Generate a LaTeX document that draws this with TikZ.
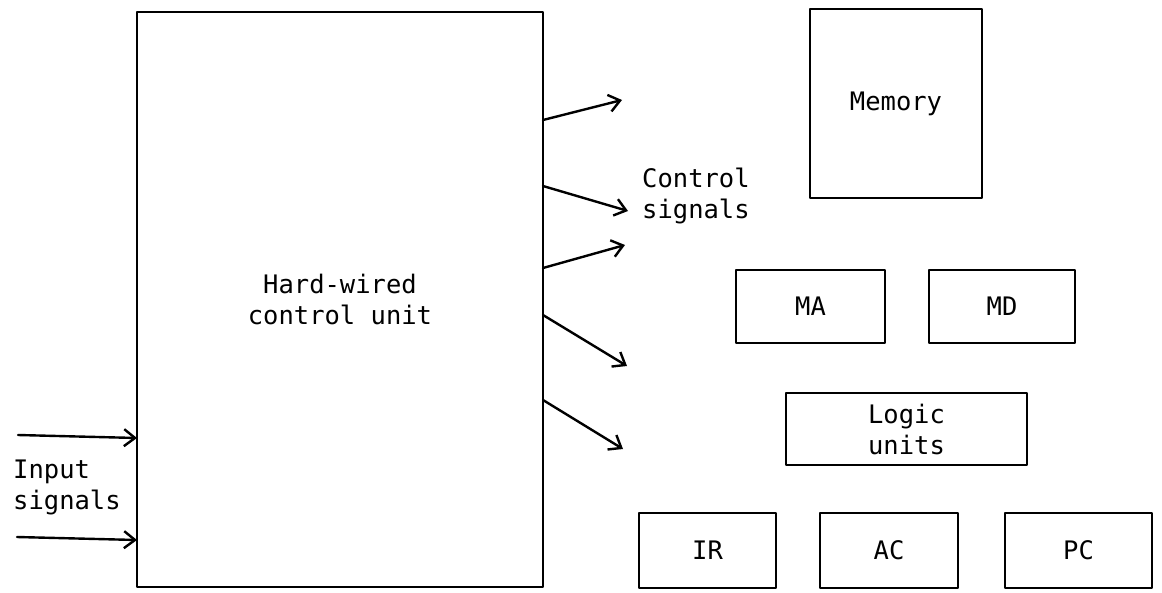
\documentclass[tikz,border=0pt]{standalone}
\usepackage{fontspec}
\setmonofont{DejaVu Sans Mono}
\usetikzlibrary{arrows.meta}
\tikzset{
  unit/.style={draw, line width=2.4pt, inner sep=0pt, align=center},
  label/.style={inner sep=0pt, align=left},
  sig/.style={->, line width=2.4pt},
}
\begin{document}
\begin{tikzpicture}[x=1pt, y=-1pt, >={Straight Barb[length=11pt,width=17pt]},
    font=\ttfamily\fontsize{25.5}{31}\selectfont, line join=round, line cap=round]
  \useasboundingbox (0,0) rectangle (1162,592);
  % blocks
  \node[unit, minimum width=406pt, minimum height=575pt] (hw) at (340,299.5) {Hard-wired\\control unit};
  \node[unit, minimum width=172pt, minimum height=189pt] (mem) at (896,103.5) {Memory};
  \node[unit, minimum width=149pt, minimum height=73pt] (ma) at (810.5,306.5) {MA};
  \node[unit, minimum width=146pt, minimum height=73pt] (md) at (1002,306.5) {MD};
  \node[unit, minimum width=241pt, minimum height=72pt] (lu) at (906.5,429) {Logic\\units};
  \node[unit, minimum width=137pt, minimum height=75pt] (ir) at (707.5,550.5) {IR};
  \node[unit, minimum width=138pt, minimum height=75pt] (ac) at (889,550.5) {AC};
  \node[unit, minimum width=147pt, minimum height=75pt] (pc) at (1078.5,550.5) {PC};
  % texts
  \node[label, anchor=west] (cs) at (642,196) {Control\\signals};
  \node[label, anchor=west] (is) at (13,487) {Input\\signals};
  % control signals
  \path
  (543,120) coordinate (a1) (622,100) coordinate (b1)
  (543,186) coordinate (a2) (628,211) coordinate (b2)
  (543,268) coordinate (a3) (625,245) coordinate (b3)
  (543,315) coordinate (a4) (627,366) coordinate (b4)
  (543,400) coordinate (a5) (623,449) coordinate (b5)
  ;
  \foreach \i in {1,...,5}
    \draw[sig] (a\i) -- (b\i);
  % input signals
  \path
  (18,435) coordinate (i1) (137,438) coordinate (j1)
  (17,537) coordinate (i2) (137,540) coordinate (j2)
  ;
  \draw[sig] (i1) -- (j1);
  \draw[sig] (i2) -- (j2);
\end{tikzpicture}
\end{document}
